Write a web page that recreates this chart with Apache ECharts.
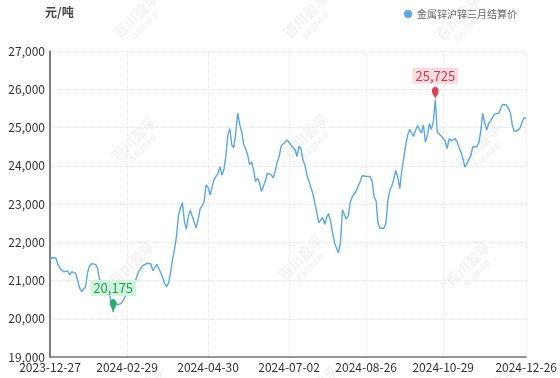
<!DOCTYPE html>
<html>
<head>
<meta charset="utf-8">
<script src="https://cdn.jsdelivr.net/npm/echarts@6/dist/echarts.min.js"></script>
<style>
  html, body { margin: 0; padding: 0; background: #fff; }
  #chart { width: 560px; height: 378px; }
</style>
</head>
<body>
<div id="chart"></div>
<script>
// Series: SHFE zinc three-month settlement price, yuan per tonne
const seriesName = '金属锌沪锌三月结算价';
const unitLabel = '元/吨';

// Trading calendar: weekdays from firstDay to lastDay, minus exchange holidays
const firstDay = '2023-12-27';
const lastDay = '2024-12-26';
const holidays = [
  '2024-01-01', '2024-02-09', '2024-02-12', '2024-02-13', '2024-02-14', '2024-02-15',
  '2024-02-16', '2024-04-04', '2024-04-05', '2024-05-01', '2024-05-02', '2024-05-03',
  '2024-06-10', '2024-09-16', '2024-09-17', '2024-10-01', '2024-10-02', '2024-10-03',
  '2024-10-04', '2024-10-07'
];

// Dates printed under the x axis
const tickDates = ['2023-12-27', '2024-02-29', '2024-04-30', '2024-07-02', '2024-08-26', '2024-10-29', '2024-12-26'];

// Daily settlement prices, one per trading day
const prices = [
  21536, 21600, 21622, 21590, 21420, 21320, 21290, 21230, 21188, 21250,
  21144, 21230, 21275, 21188, 21000, 20800, 20707, 20690, 20838, 21200,
  21380, 21440, 21450, 21420, 21330, 21057, 20880, 20800, 20740, 20700,
  20680, 20640, 20175, 20446, 20360, 20380, 20404, 20480, 20580, 20650,
  20720, 20760, 20850, 20950, 21120, 21250, 21320, 21390, 21420, 21450,
  21490, 21440, 21250, 21230, 21420, 21320, 21210, 21080, 20920, 20838,
  20930, 21200, 21550, 21800, 22150, 22700, 22890, 23040, 22560, 22340,
  22680, 22840, 22790, 22520, 22380, 22600, 22880, 22960, 23060, 23500,
  23440, 23230, 23200, 23640, 23720, 23800, 23975, 23758, 23900, 24250,
  24800, 24970, 24542, 24470, 24850, 25370, 25080, 24890, 24570, 24440,
  24300, 24030, 24100, 23900, 23590, 23670, 23560, 23330, 23320, 23600,
  23805, 23840, 23760, 23680, 23870, 24100, 24250, 24520, 24500, 24620,
  24673, 24700, 24540, 24490, 24420, 24237, 24510, 24450, 24150, 24025,
  23758, 23600, 23440, 23280, 23030, 22790, 22510, 22550, 22650, 22470,
  22640, 22750, 22550, 22250, 21990, 21850, 21720, 22000, 22850, 22850,
  22600, 22700, 23050, 23190, 23200, 23350, 23380, 23590, 23740, 23720,
  23725, 23715, 23714, 23600, 23191, 23090, 22500, 22365, 22400, 22365,
  22500, 23100, 23360, 23470, 23650, 23880, 23700, 23400, 23850, 24200,
  24540, 24800, 24950, 24960, 24770, 24920, 25050, 25100, 24850, 25065,
  24620, 24800, 25100, 24950, 25150, 25725, 24880, 24840, 24780, 24740,
  24640, 24450, 24710, 24650, 24630, 24710, 24630, 24480, 24350, 24180,
  23960, 24063, 24160, 24270, 24500, 24550, 24498, 24600, 24900, 25371,
  25120, 24930, 25110, 25180, 25230, 25350, 25388, 25370, 25480, 25600,
  25650, 25590, 25500, 25380, 25050, 24900, 24890, 24935, 25000, 25150,
  25260, 25240
];

// Y axis range
const yMin = 19000;
const yMax = 27000;
const yStep = 1000;

function buildTradingDays(start, end, closed) {
  const out = [];
  const skip = new Set(closed);
  const [sy, sm, sd] = start.split('-').map(Number);
  const [ey, em, ed] = end.split('-').map(Number);
  let t = Date.UTC(sy, sm - 1, sd);
  const stop = Date.UTC(ey, em - 1, ed);
  while (t <= stop) {
    const d = new Date(t);
    const wd = d.getUTCDay();
    const s = d.toISOString().slice(0, 10);
    if (wd !== 0 && wd !== 6 && !skip.has(s)) out.push(s);
    t += 86400000;
  }
  return out;
}

function thousands(v) {
  return String(Math.round(v)).replace(/\B(?=(\d{3})+(?!\d))/g, ',');
}

const dates = buildTradingDays(firstDay, lastDay, holidays);
const tickSet = new Set(tickDates);
const showTick = (idx, val) => tickSet.has(val);

const lineColor = '#5aa7e7';

// Faint background brand marks
const wmSpots = [
  [140, 20], [310, 20], [462, 22],
  [138, 143], [310, 140], [482, 150],
  [136, 268], [305, 262], [472, 268],
  [147, 392], [320, 392], [497, 392]
];
const watermarks = [];
wmSpots.forEach(([x, y]) => {
  watermarks.push({
    type: 'group', x: x, y: y, rotation: Math.PI / 4, silent: true, z: 0,
    children: [
      { type: 'text', style: { text: '百川盈孚', x: 0, y: -6, fill: 'rgba(150,150,150,0.12)', font: 'bold 14px "Noto Sans CJK SC"', textAlign: 'center', textVerticalAlign: 'middle' } },
      { type: 'text', style: { text: 'BAIINFO', x: 0, y: 8, fill: 'rgba(150,150,150,0.12)', font: 'bold 8px "Noto Sans"', textAlign: 'center', textVerticalAlign: 'middle' } }
    ]
  });
});

const chart = echarts.init(document.getElementById('chart'), null, { renderer: 'canvas' });

chart.setOption({
  animation: false,
  backgroundColor: '#fff',
  textStyle: { fontFamily: '"Noto Sans CJK SC", "Noto Sans", sans-serif' },
  graphic: watermarks.concat([
    {
      type: 'text', left: 45, top: 6, z: 10,
      style: { text: unitLabel, fill: '#444', font: 'bold 12px "Noto Sans CJK SC"' }
    }
  ]),
  legend: {
    top: 4,
    right: 38,
    icon: 'circle',
    itemWidth: 8,
    itemHeight: 8,
    itemGap: 10,
    textStyle: { fontSize: 10, color: '#666' },
    data: [seriesName]
  },
  grid: { left: 50, right: 30, top: 51, bottom: 21 },
  xAxis: {
    type: 'category',
    boundaryGap: false,
    data: dates,
    axisLine: { lineStyle: { color: '#777', width: 1.5 } },
    axisTick: { show: false },
    axisLabel: {
      interval: showTick,
      color: '#333',
      fontSize: 12,
      margin: 4,
      showMaxLabel: true,
      hideOverlap: false
    },
    splitLine: {
      show: true,
      interval: showTick,
      lineStyle: { color: '#e6e6e6', type: 'dotted' }
    }
  },
  yAxis: {
    type: 'value',
    min: yMin,
    max: yMax,
    interval: yStep,
    axisLine: { show: true, lineStyle: { color: '#555', width: 1.5 } },
    axisTick: { show: false },
    axisLabel: {
      color: '#333',
      fontSize: 12,
      margin: 5,
      formatter: v => thousands(v)
    },
    splitLine: { lineStyle: { color: '#e6e6e6', type: 'dotted' } }
  },
  series: [{
    name: seriesName,
    type: 'line',
    data: prices,
    showSymbol: false,
    symbol: 'circle',
    color: lineColor,
    lineStyle: { color: lineColor, width: 1.4 },
    markPoint: {
      symbol: 'pin',
      symbolSize: [11, 15],
      symbolOffset: [0, 0],
      label: {
        show: true,
        position: 'top',
        distance: 3,
        fontSize: 13,
        padding: [2, 3, 1, 3],
        formatter: p => thousands(p.value)
      },
      data: [
        {
          type: 'max', name: 'max',
          itemStyle: { color: '#e5404f' },
          label: { color: '#d9344a', backgroundColor: 'rgba(250,218,222,0.95)' }
        },
        {
          type: 'min', name: 'min',
          itemStyle: { color: '#2aaf68' },
          label: { color: '#22a05c', backgroundColor: 'rgba(208,242,218,0.95)' }
        }
      ]
    }
  }]
});
</script>
</body>
</html>
